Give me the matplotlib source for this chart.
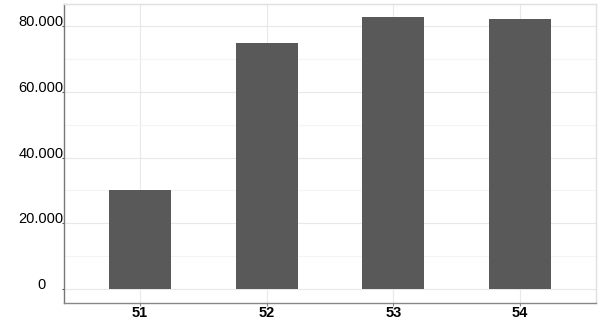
import numpy as np
import matplotlib
matplotlib.use("Agg")
import matplotlib.pyplot as plt
from matplotlib.ticker import FuncFormatter, MultipleLocator

categories = ["51", "52", "53", "54"]
values = [30100, 74700, 82600, 82100]
yticks = [0, 20000, 40000, 60000, 80000]

plt.rcParams['font.family'] = ['Liberation Sans', 'DejaVu Sans']

fig = plt.figure(figsize=(6, 3.2), dpi=100)
ax = fig.add_axes([64/600, 1 - 303/320, (596 - 64)/600, (303 - 4)/320])

x = np.arange(len(categories))
ax.bar(x, values, width=0.49, color="#595959", zorder=3)

ax.set_xlim(-0.6, len(categories) - 0.4)
ax.set_ylim(-4150, 86600)

ax.set_yticks(yticks)
ax.yaxis.set_minor_locator(MultipleLocator(10000))
ax.yaxis.set_major_formatter(FuncFormatter(lambda v, p: f"{int(v):,}".replace(",", ".")))
ax.set_xticks(x)
ax.set_xticklabels(categories, fontweight="bold", fontsize=10.5)

ax.grid(True, which="major", color="#e8e8e8", linewidth=0.8, zorder=0)
ax.grid(True, which="minor", axis="y", color="#f4f4f4", linewidth=0.8, zorder=0)

# labels centred ~23px left of the axis, like the original
ax.tick_params(axis="y", which="major", length=1.5, pad=15, labelsize=10.5, colors="#555555", labelcolor="black")
ax.tick_params(axis="y", which="minor", length=0)
ax.tick_params(axis="x", length=2, pad=0.5, colors="#888888", labelcolor="black")
for lab in ax.get_yticklabels():
    lab.set_va("baseline")
    lab.set_ha("center")

ax.spines["left"].set_color("#777777")
ax.spines["bottom"].set_color("#888888")
ax.spines["top"].set_color("#e0e0e0")
ax.spines["right"].set_color("#e0e0e0")
for s in ax.spines.values():
    s.set_linewidth(1.0)

fig.savefig("out.png", dpi=100)
